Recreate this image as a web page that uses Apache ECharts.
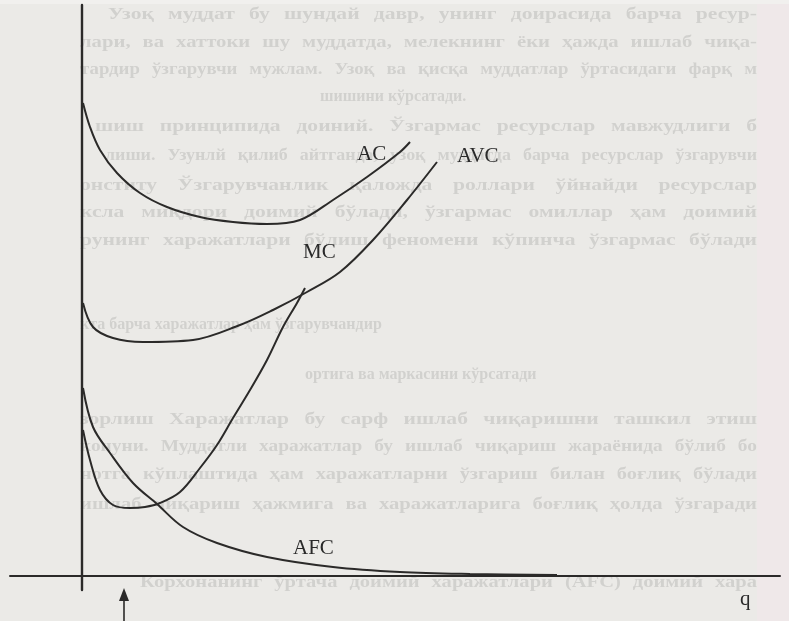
<!DOCTYPE html>
<html>
<head>
<meta charset="utf-8">
<script src="https://cdn.jsdelivr.net/npm/echarts@6/dist/echarts.min.js"></script>
<style>
html,body{margin:0;padding:0;background:#ebeae7;}
#chart{width:789px;height:621px;}
</style>
</head>
<body>
<div id="chart"></div>
<script>
// Cost curves (quantity q, cost)
const acData  = [[1,473],[8,449],[18,426],[35,403],[58,383],[85,369],[118,359],[151,354],[185,352],[218,356],[251,376],[285,399],[318,424],[328,434]];
const avcData = [[1,273],[11,249],[31,238],[61,234],[111,236],[158,251],[191,266],[225,284],[258,304],[291,336],[325,376],[355,414]];
const mcData  = [[1,146],[8,116],[18,86],[31,71],[48,68],[63,69],[78,73],[98,84],[118,108],[135,131],[151,158],[168,186],[185,216],[201,249],[215,273],[223,288]];
const afcData = [[1,188],[11,149],[28,123],[51,93],[75,72],[101,49],[135,33],[185,19],[251,9],[318,4],[388,2],[475,1]];
const curveNames = ['AC','AVC','MC','AFC'];
const axisName = 'q';

// faint show-through text of the printed page
const pageLines = [
  'Узоқ муддат бу шундай давр, унинг доирасида барча ресур-',
  'лари, ва хаттоки шу муддатда, мелекнинг ёки ҳажда ишлаб чиқа-',
  'тардир ўзгарувчи мужлам. Узоқ ва қисқа муддатлар ўртасидаги фарқ м',
  'шишини кўрсатади.',
  'шиш принципида доиний. Ўзгармас ресурслар мавжудлиги б',
  'лиши. Узунлй қилиб айтганда, узоқ муддатда барча ресурслар ўзгарувчи',
  'онститу Ўзгарувчанлик қаложда роллари ўйнайди ресурслар',
  'ксла миқдори доимий бўлади, ўзгармас омиллар ҳам доимий',
  'рунинг харажатлари бўлиш феномени кўпинча ўзгармас бўлади',
  'кта барча харажатлар ҳам ўзгарувчандир',
  'ортига ва маркасини кўрсатади',
  'зорлиш Харажатлар бу сарф ишлаб чиқаришни ташкил этиш',
  'конуни. Муддатли харажатлар бу ишлаб чиқариш жараёнида бўлиб бо',
  'нотга кўплаштида ҳам харажатларни ўзгариш билан боғлиқ бўлади',
  'ишлаб чиқариш ҳажмига ва харажатларига боғлиқ ҳолда ўзгаради',
  'Корхонанинг ўртача доимий харажатлари (AFC) доимий хара'
];
const pageLineY = [15,43,70,97,127,156,186,213,241,325,375,420,447,475,505,583];
const pageLineX = [108,80,80,320,95,105,80,80,80,80,305,80,80,80,80,140];
const pageLineJustify = [1,1,1,0,1,1,1,1,1,0,0,1,1,1,1,1];

const chart = echarts.init(document.getElementById('chart'), null, {renderer:'canvas'});
const ink = '#2b2a29';
const pageFont = 'bold 16px "Liberation Serif", "DejaVu Serif", serif';
const measureCtx = document.createElement('canvas').getContext('2d');
measureCtx.font = pageFont;
const pageRight = 757;

function curve(name, data) {
  return {
    name: name, type: 'line', data: data, smooth: 0.35, symbol: 'none',
    clip: false, silent: true,
    lineStyle: {color: ink, width: 2}
  };
}

const textStyleBase = {font: '21px "Liberation Serif", "DejaVu Serif", serif', fill: '#2a2a2a'};
const pageStyle = {font: pageFont, fill: 'rgba(60,60,60,0.14)', textVerticalAlign: 'middle'};

const graphics = [
  {type:'rect', shape:{x:757,y:0,width:32,height:621}, style:{fill:'#efe8e9'}, z:-10, silent:true},
  {type:'rect', shape:{x:0,y:0,width:789,height:4}, style:{fill:'#f1f0ee'}, z:-10, silent:true}
];
pageLines.forEach((t,i)=>{
  if (!pageLineJustify[i]) {
    graphics.push({type:'text', x: pageLineX[i], y: pageLineY[i], z:-5, silent:true,
      style:Object.assign({text:t}, pageStyle)});
    return;
  }
  const words = t.split(' ');
  const widths = words.map(w => measureCtx.measureText(w).width);
  const total = widths.reduce((a,b)=>a+b,0);
  const target = pageRight - pageLineX[i];
  const n = Math.max(1, words.length - 1);
  let sx = (target - 12*n) / total;
  sx = Math.min(1.35, Math.max(0.9, sx));
  const gap = (target - total*sx) / n;
  let x = pageLineX[i];
  words.forEach((w,k)=>{
    graphics.push({type:'text', x: x, y: pageLineY[i], z:-5, silent:true, scaleX: sx,
      style:Object.assign({text:w}, pageStyle)});
    x += widths[k]*sx + gap;
  });
});
// labels
const labelPos = [[357,154],[457,156],[303,252],[293,548]];
curveNames.forEach((n,i)=>{
  graphics.push({type:'text', x: labelPos[i][0], y: labelPos[i][1], z:20,
    style:Object.assign({text:n, textVerticalAlign:'middle'}, textStyleBase)});
});
graphics.push({type:'text', x: 740, y: 599, z:20,
  style:Object.assign({text:axisName, textVerticalAlign:'middle'}, textStyleBase)});
// arrow under the axis
graphics.push({type:'line', shape:{x1:124,y1:621,x2:124,y2:597}, style:{stroke:ink, lineWidth:1.6}, z:20});
graphics.push({type:'polygon', shape:{points:[[124,588],[119,601],[129,601]]}, style:{fill:ink}, z:20});

chart.setOption({
  animation: false,
  backgroundColor: '#ebeae7',
  grid: {left:10, right:9, top:5, bottom:31},
  xAxis: {type:'value', min:-72, max:698, splitLine:{show:false}, axisTick:{show:false}, axisLabel:{show:false},
    axisLine:{show:true, onZero:true, lineStyle:{color:ink, width:2}}},
  yAxis: {type:'value', min:-14, max:571, splitLine:{show:false}, axisTick:{show:false}, axisLabel:{show:false},
    axisLine:{show:true, onZero:true, lineStyle:{color:ink, width:2.4}}},
  series: [
    curve(curveNames[0], acData),
    curve(curveNames[1], avcData),
    curve(curveNames[2], mcData),
    curve(curveNames[3], afcData)
  ],
  graphic: graphics
});
</script>
</body>
</html>
